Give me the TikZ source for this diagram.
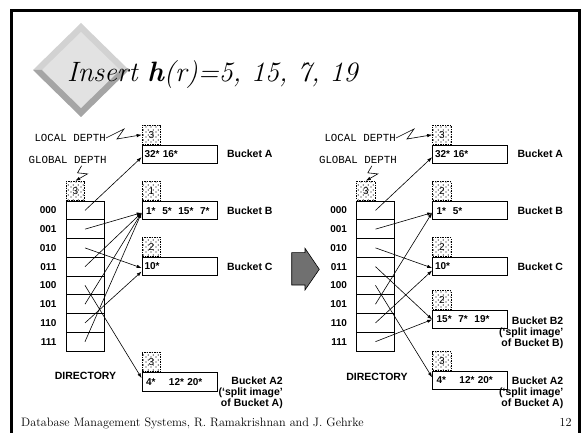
\documentclass[tikz,border=0pt]{standalone}
\usepackage{fontspec}
\setsansfont{Liberation Sans}
\setmonofont{Liberation Mono}
\usetikzlibrary{calc}
\usetikzlibrary{positioning}
\usetikzlibrary{patterns}
\usetikzlibrary{arrows.meta}
\definecolor{bevellight}{RGB}{210,210,210}
\definecolor{beveldark}{RGB}{165,165,165}
\definecolor{diamondface}{RGB}{226,226,226}
\definecolor{arrowgray}{RGB}{112,112,112}
\pgfdeclarepatternformonly{sparsedots}{\pgfqpoint{0pt}{0pt}}{\pgfqpoint{5pt}{5pt}}{\pgfqpoint{5pt}{5pt}}{%
	\pgfpathcircle{\pgfqpoint{1.2pt}{1.2pt}}{0.7pt}%
	\pgfpathcircle{\pgfqpoint{3.7pt}{3.5pt}}{0.7pt}%
	\pgfusepath{fill}}

\begin{document}
\begin{tikzpicture}[x=1pt, y=-1pt,
		dcell/.style  = {rectangle, draw, line width=0.7pt, minimum width=38pt, minimum height=18.75pt, inner sep=0pt},
		bucket/.style = {rectangle, draw, line width=0.7pt, text width=70pt, minimum height=18.3pt, inner xsep=2.5pt, inner ysep=0pt, align=left, font=\sffamily\bfseries\fontsize{10}{12}\selectfont},
		depth/.style  = {rectangle, draw, dash pattern=on 1.5pt off 1pt, line width=0.8pt, pattern=sparsedots, minimum width=18.5pt, minimum height=19pt, inner sep=0pt, anchor=south west, font=\sffamily\fontsize{10}{12}\selectfont},
		lbl/.style    = {inner sep=0pt, font=\sffamily\bfseries\fontsize{10.5}{11}\selectfont},
		rowlbl/.style = {inner sep=0pt, font=\sffamily\bfseries\fontsize{10}{11}\selectfont},
		mono/.style   = {inner sep=0pt, font=\ttfamily\fontsize{10.8}{12}\selectfont},
		ptr/.style    = {-{Latex[length=5pt, width=3.4pt]}, line width=0.6pt}
		]
		\useasboundingbox (0,0) rectangle (587,433);
		
		%Frame
		\draw[line width=3pt] (11,433) -- (11,11) -- (579,11) -- (579,433);
		
		%Title
		\fill[bevellight]	(33,70) -- (81,23) -- (129,70) -- cycle;
		\fill[beveldark]	(33,70) -- (81,117) -- (129,70) -- cycle;
		\fill[diamondface]	(42,70) -- (81,32) -- (120,70) -- (81,108) -- cycle;
		\node[anchor=base west, inner sep=0pt, font=\fontsize{28}{32}\selectfont\itshape] (title) at (67,82) {Insert \textbf{h}(r)=5, 15, 7, 19};
		
		%Left: before
		\node[mono, anchor=east]	(lld)	at	(106,138)	{LOCAL DEPTH};
		\node[mono, anchor=east]	(lgd)	at	(106.7,160)	{GLOBAL DEPTH};
		\foreach \i in {0,...,7}
			\node[dcell] (lc\i) at (85, 210.4+18.75*\i) {};
		\foreach \b [count=\i from 0] in {000,001,010,011,100,101,110,111}
			\node[rowlbl, left=9pt of lc\i] {\b};
		\node[depth]	(lgdb)	at	(lc0.north west)	{3};
		\node[lbl]		(ldir)	at	(85.5,376)		{DIRECTORY};
		
		\node[bucket]	(lA)	at	(179.5,154.2)	{32* 16*};
		\node[bucket]	(lB)	at	(179.5,210.7)	{\,1*\ \ 5*\ \ 15*\ \ 7*};
		\node[bucket]	(lC)	at	(179.5,266.5)	{10*};
		\node[bucket]	(lA2)	at	(179.5,381.7)	{\,4*\ \ \ \ 12* 20*};
		\node[depth]	(ldA)	at	(lA.north west)		{3};
		\node[depth]	(ldB)	at	(lB.north west)		{1};
		\node[depth]	(ldC)	at	(lC.north west)		{2};
		\node[depth]	(ldA2)	at	(lA2.north west)	{3};
		\node[lbl, right=9.5pt of lA]	{Bucket A};
		\node[lbl, right=9.5pt of lB]	{Bucket B};
		\node[lbl, right=9.5pt of lC]	{Bucket C};
		\node[lbl, align=right, anchor=north east]	at	(283,377)	{Bucket A2\\(`split image'\\of Bucket A)};
		
		\draw[ptr]	(lld.east) -- ++(18,-9) -- ++(-7,10) -- (ldA.west);
		\draw[ptr]	($(lgd.south west)+(53,2)$) -- ++(-4,7) -- ++(10,1) -- (lgdb.north);
		\foreach \c/\b/\d in {lc0/lA/3, lc1/lB/2, lc2/lC/1.5, lc3/lB/2, lc4/lA2/-3.5, lc5/lB/2, lc6/lC/5, lc7/lB/2}
			\draw[ptr]	(\c.center) -- ($(\b.west)+(0,\d)$);
		
		%Arrow
		\filldraw[fill=arrowgray, draw=black, line width=0.6pt] (291.7,252.7) -- (305,252.7) -- (305,248.3) -- (319.3,269.3) -- (305,290) -- (305,285) -- (291.7,285) -- cycle;
		
		%Right: after
		\node[mono, anchor=east]	(rld)	at	(396,138)	{LOCAL DEPTH};
		\node[mono, anchor=east]	(rgd)	at	(397,160)	{GLOBAL DEPTH};
		\foreach \i in {0,...,7}
			\node[dcell] (rc\i) at (375.5, 210.4+18.75*\i) {};
		\foreach \b [count=\i from 0] in {000,001,010,011,100,101,110,111}
			\node[rowlbl, left=9pt of rc\i] {\b};
		\node[depth]	(rgdb)	at	(rc0.north west)	{3};
		\node[lbl]		(rdir)	at	(377,376.7)		{DIRECTORY};
		
		\node[bucket]	(rA)	at	(470,154.2)	{32* 16*};
		\node[bucket]	(rB)	at	(470,210.7)	{\,1*\ \ 5*};
		\node[bucket]	(rC)	at	(470,266.5)	{10*};
		\node[bucket]	(rB2)	at	(470,319.5)	{\,15*\ \ 7*\ \ 19*};
		\node[bucket]	(rA2)	at	(470,380.4)	{\,4*\ \ \ \ 12* 20*};
		\node[depth]	(rdA)	at	(rA.north west)		{3};
		\node[depth]	(rdB)	at	(rB.north west)		{2};
		\node[depth]	(rdC)	at	(rC.north west)		{2};
		\node[depth]	(rdB2)	at	(rB2.north west)	{2};
		\node[depth]	(rdA2)	at	(rA2.north west)	{3};
		\node[lbl, right=9.5pt of rA]	{Bucket A};
		\node[lbl, right=9.5pt of rB]	{Bucket B};
		\node[lbl, right=9.5pt of rC]	{Bucket C};
		\node[lbl, align=right, anchor=north east]	at	(563.5,317)	{Bucket B2\\(`split image'\\of Bucket B)};
		\node[lbl, align=right, anchor=north east]	at	(563.5,377)	{Bucket A2\\(`split image'\\of Bucket A)};
		
		\draw[ptr]	(rld.east) -- ++(18,-9) -- ++(-7,10) -- (rdA.west);
		\draw[ptr]	($(rgd.south west)+(53,2)$) -- ++(-4,7) -- ++(10,1) -- (rgdb.north);
		\foreach \c/\b/\d in {rc0/rA/3, rc1/rB/2, rc2/rC/1.5, rc3/rB2/0, rc4/rA2/-3, rc5/rB/2, rc6/rC/4, rc7/rB2/0}
			\draw[ptr]	(\c.center) -- ($(\b.west)+(0,\d)$);
		
		%Footer
		\node[anchor=base west, inner sep=0pt, font=\fontsize{12.2}{14}\selectfont]	(foot)	at	(21,426)	{Database Management Systems, R. Ramakrishnan and J. Gehrke};
		\node[anchor=base east, inner sep=0pt, font=\fontsize{12.2}{14}\selectfont]	(page)	at	(571.7,426)	{12};
	\end{tikzpicture}
\end{document}
